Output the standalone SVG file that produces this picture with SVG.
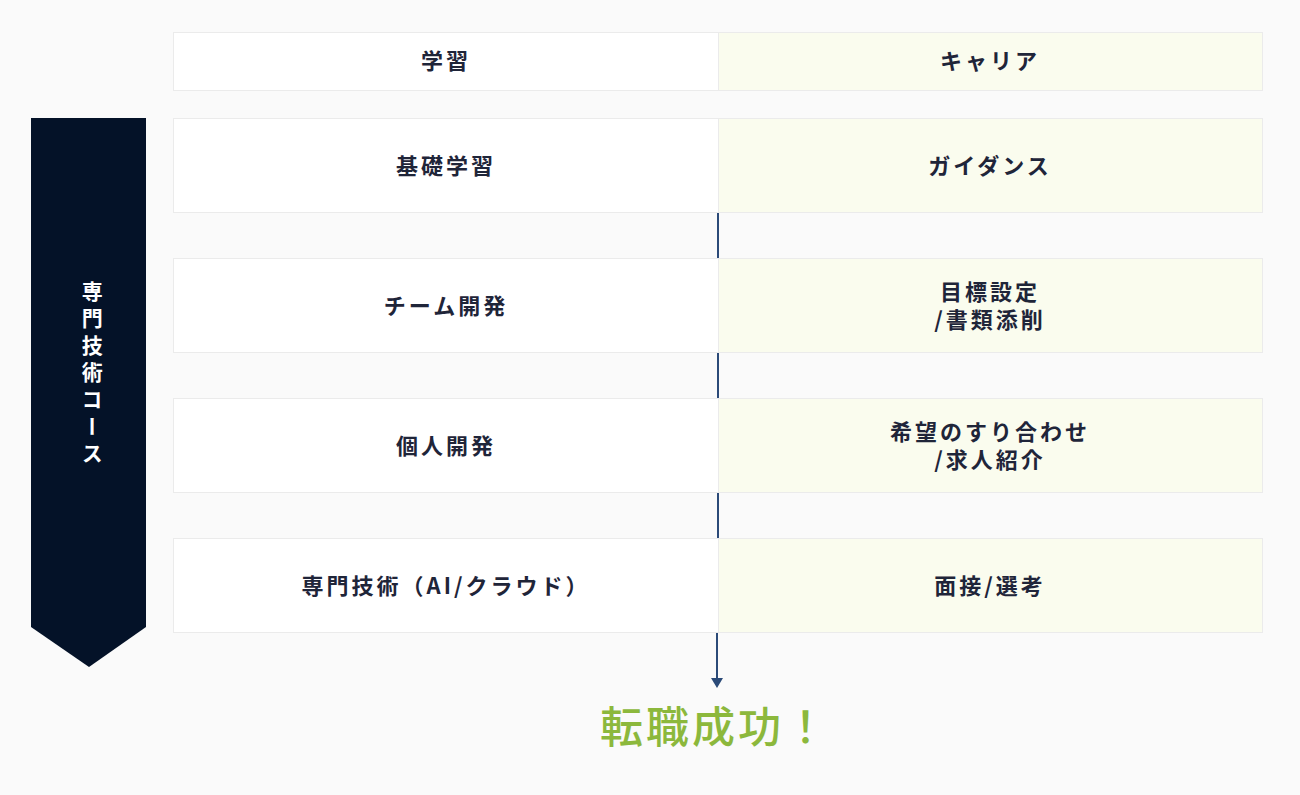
<svg xmlns="http://www.w3.org/2000/svg" width="1300" height="795" viewBox="0 0 1300 795">
<defs>
<style>
.l{fill:#ffffff;stroke:#ebebeb;stroke-width:1}
.r{fill:#fafcee;stroke:#ebebeb;stroke-width:1}
.t{font-family:"Noto Sans CJK JP","Noto Sans",sans-serif;font-weight:700;font-size:22px;fill:#1f2539;text-anchor:middle;letter-spacing:3px}
.c{stroke:#2b4a78;stroke-width:2;fill:none}
</style>
</defs>
<rect width="1300" height="795" fill="#fafafa"/>
<g id="banner">
<path d="M31,118 H146 V627 L89,667 L31,627 Z" fill="#041228"/>
<text x="89" y="281" style="font-family:'Noto Sans CJK JP',sans-serif;font-weight:700;font-size:21px;fill:#ffffff;writing-mode:vertical-rl;letter-spacing:6px" dominant-baseline="middle">専門技術コース</text>
</g>
<g id="header">
<rect class="l" x="173.5" y="32.5" width="545" height="58"/>
<rect class="r" x="718.5" y="32.5" width="544" height="58"/>
<text class="t" x="446" y="69">学習</text>
<text class="t" x="990" y="69">キャリア</text>
</g>
<g id="connectors">
<line class="c" x1="718" y1="213" x2="718" y2="258"/>
<line class="c" x1="718" y1="353" x2="718" y2="398"/>
<line class="c" x1="718" y1="493" x2="718" y2="538"/>
<line class="c" x1="717" y1="633" x2="717" y2="678"/>
<path d="M711,678 H723 L717,688 Z" fill="#2b4a78"/>
</g>
<g id="row1">
<rect class="l" x="173.5" y="118.5" width="545" height="94"/>
<rect class="r" x="718.5" y="118.5" width="544" height="94"/>
<text class="t" x="446" y="174">基礎学習</text>
<text class="t" x="990" y="174">ガイダンス</text>
</g>
<g id="row2">
<rect class="l" x="173.5" y="258.5" width="545" height="94"/>
<rect class="r" x="718.5" y="258.5" width="544" height="94"/>
<text class="t" x="446" y="314">チーム開発</text>
<text class="t" x="990" y="300">目標設定</text>
<text class="t" x="990" y="328">/書類添削</text>
</g>
<g id="row3">
<rect class="l" x="173.5" y="398.5" width="545" height="94"/>
<rect class="r" x="718.5" y="398.5" width="544" height="94"/>
<text class="t" x="446" y="454">個人開発</text>
<text class="t" x="990" y="440">希望のすり合わせ</text>
<text class="t" x="990" y="468">/求人紹介</text>
</g>
<g id="row4">
<rect class="l" x="173.5" y="538.5" width="545" height="94"/>
<rect class="r" x="718.5" y="538.5" width="544" height="94"/>
<text class="t" x="446" y="594">専門技術（AI/クラウド）</text>
<text class="t" x="990" y="594">面接/選考</text>
</g>
<g id="goal">
<text x="715" y="743" style="font-family:'Noto Sans CJK JP',sans-serif;font-weight:500;font-size:43px;fill:#8cb83c;text-anchor:middle;letter-spacing:3px">転職成功！</text>
</g>
</svg>
